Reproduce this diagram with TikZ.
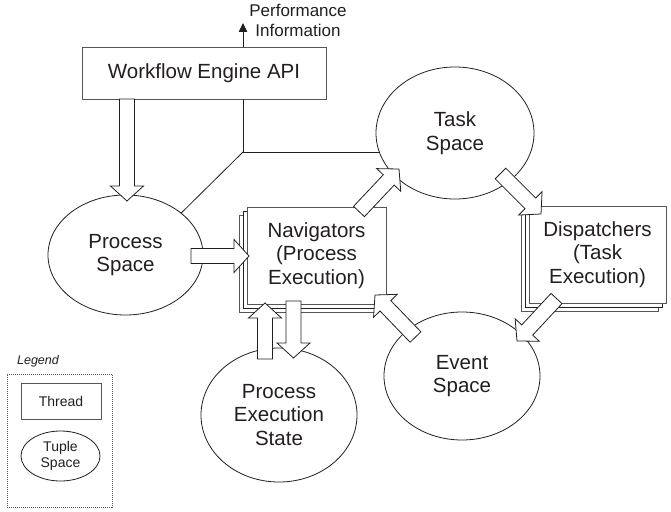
\documentclass[tikz,border=0pt]{standalone}
\usepackage{fontspec}
\setmainfont{Liberation Sans}
\usetikzlibrary{shapes.geometric,calc,arrows.meta}
\definecolor{ink}{HTML}{231F20}
\definecolor{edgegray}{HTML}{555555}
\tikzset{
  lbl/.style={font=\fontsize{20.5}{23.5}\selectfont, text=ink, align=center},
  smalllbl/.style={font=\fontsize{14}{16.5}\selectfont, text=ink, align=center},
  spacenode/.style={ellipse, draw=ink, line width=0.8pt, fill=white, inner sep=0pt, lbl},
  threadnode/.style={rectangle, draw=edgegray, line width=0.9pt, fill=white, inner sep=0pt, lbl},
  layerA/.style={rectangle, draw=edgegray, line width=0.9pt, fill=white, inner sep=0pt},
  layerB/.style={rectangle, draw=ink, line width=0.9pt, fill=white, inner sep=0pt},
  wire/.style={draw=ink, line width=0.8pt},
  harr/.style={draw=ink, line width=0.8pt, fill=white, line join=miter},
}
\newcommand\hollowarr[2]{%
  \coordinate (hb) at ($(#2)!15pt!(#1)$);
  \draw[harr] ($(#1)!7.5pt!90:(#2)$) -- ($(hb)!7.5pt!90:(#2)$) -- ($(hb)!16.5pt!90:(#2)$) -- (#2)
     -- ($(hb)!16.5pt!-90:(#2)$) -- ($(hb)!7.5pt!-90:(#2)$) -- ($(#1)!7.5pt!-90:(#2)$) -- cycle;
}
\begin{document}
\begin{tikzpicture}[x=1pt,y=-1pt]
\useasboundingbox (0,0) rectangle (671,511);
\fill[white] (0,0) rectangle (671,511);

% spaces (ellipses)
\node[spacenode, minimum width=155pt, minimum height=120pt] (ps) at (125.5,255) {Process\\Space};
\node[spacenode, minimum width=158pt, minimum height=132pt] (ts) at (455,133) {Task\\Space};
\node[spacenode, minimum width=156pt, minimum height=128pt] (es) at (462,376) {Event\\Space};
\node[spacenode, minimum width=156pt, minimum height=134pt] (pes) at (279,415) {Process\\Execution\\State};

% workflow engine
\node[threadnode, minimum width=244pt, minimum height=52pt] (wf) at (204,73) {Workflow Engine API};
\node[lbl, font=\fontsize{17}{20}\selectfont] (perf) at (298,20) {Performance\\Information};
\coordinate (perfpt) at (243,23);
\draw[wire, -{Triangle[length=9pt,width=8.5pt]}] (wf.north -| perfpt) -- (perfpt);

% navigators stack
\node[layerA, minimum width=139pt, minimum height=97pt] (nav3) at (308.5,263.5) {};
\node[layerB, minimum width=139pt, minimum height=97pt] (nav2) at (312.5,259.5) {};
\node[threadnode, minimum width=139pt, minimum height=97pt] (nav) at (316.5,255.5) {Navigators\\(Process\\Execution)};

% dispatchers stack
\node[layerA, minimum width=137pt, minimum height=97pt] (dis3) at (589.5,262.5) {};
\node[layerB, minimum width=137pt, minimum height=97pt] (dis2) at (593.5,258.5) {};
\node[threadnode, minimum width=137pt, minimum height=97pt] (dis) at (597.5,254.5) {Dispatchers\\(Task\\Execution)};

% thin connectors
\coordinate (J) at (243,152);
\draw[wire] (wf.south -| J) -- (J) -- (J -| ts.194);
\draw[wire] (J) -- (ps.37);

% hollow arrows
\coordinate (a1t) at (127,99);    \coordinate (a1h) at (127,201);
\coordinate (a2t) at (191,256);   \coordinate (a2h) at (249,256);
\coordinate (a3t) at (359,211.5); \coordinate (a3h) at (399,169);
\coordinate (a4t) at (500.5,173.5); \coordinate (a4h) at (541,214);
\coordinate (a5t) at (556.5,298.5); \coordinate (a5h) at (517,341);
\coordinate (a6t) at (415.5,337); \coordinate (a6h) at (375,295);
\coordinate (a7t) at (265,359);   \coordinate (a7h) at (265,303);
\coordinate (a8t) at (293.5,301); \coordinate (a8h) at (293.5,358);
\hollowarr{a1t}{a1h}
\hollowarr{a2t}{a2h}
\hollowarr{a3t}{a3h}
\hollowarr{a4t}{a4h}
\hollowarr{a5t}{a5h}
\hollowarr{a6t}{a6h}
\hollowarr{a7t}{a7h}
\hollowarr{a8t}{a8h}

% legend
\node[font=\fontsize{12.5}{14}\selectfont\itshape, text=ink] (lg) at (38,361) {Legend};
\node[draw=edgegray, line width=0.9pt, dash pattern=on 1pt off 1pt, minimum width=105pt, minimum height=133pt, inner sep=0pt] (legbox) at (59.5,440.5) {};
\node[threadnode, smalllbl, minimum width=80pt, minimum height=36pt] (lthr) at (61,401) {Thread};
\node[spacenode, smalllbl, minimum width=79pt, minimum height=50pt] (lts) at (60.5,456) {Tuple\\Space};
\end{tikzpicture}
\end{document}
